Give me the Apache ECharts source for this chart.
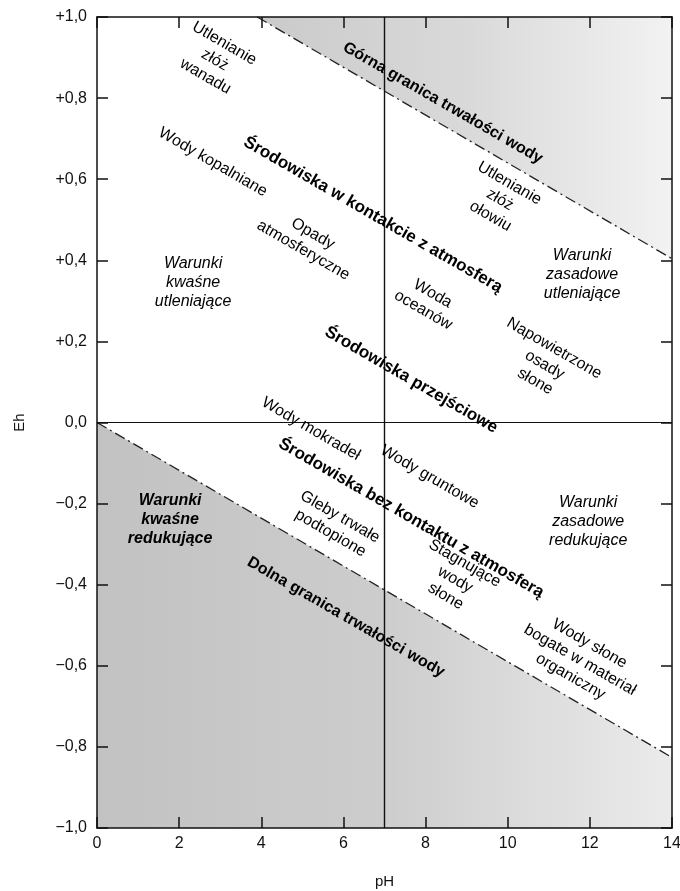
<!DOCTYPE html>
<html>
<head>
<meta charset="utf-8">
<title>Eh - pH</title>
<script src="https://cdn.jsdelivr.net/npm/echarts@6/dist/echarts.min.js"></script>
<style>
  html, body { margin: 0; padding: 0; background: #fff; }
  #chart { width: 680px; height: 891px; }
</style>
</head>
<body>
<div id="chart"></div>
<script>
// granice trwałości wody (pH, Eh)
const upperPH = [3.9, 14];
const upperEh = [1.0, 0.404];
const lowerPH = [0, 14];
const lowerEh = [0, -0.826];

// linie podziału pH 7 i Eh 0
const neutralPH = [7, 7];
const neutralEh = [-1, 1];
const zeroPH = [0, 14];
const zeroEh = [0, 0];

// opisy pól
const noteText = [
  'Utlenianie\nzłóż\nwanadu',
  'Górna granica trwałości wody',
  'Wody kopalniane',
  'Środowiska w kontakcie z atmosferą',
  'Opady\natmosferyczne',
  'Warunki\nkwaśne\nutleniające',
  'Utlenianie\nzłóż\nołowiu',
  'Warunki\nzasadowe\nutleniające',
  'Woda\noceanów',
  'Napowietrzone\nosady\nsłone',
  'Środowiska przejściowe',
  'Wody mokradeł',
  'Wody gruntowe',
  'Środowiska bez kontaktu z atmosferą',
  'Warunki\nkwaśne\nredukujące',
  'Gleby trwałe\npodtopione',
  'Stagnujące\nwody\nsłone',
  'Warunki\nzasadowe\nredukujące',
  'Dolna granica trwałości wody',
  'Wody słone\nbogate w materiał\norganiczny'
];
const notePH = [2.87, 8.42, 2.82, 6.72, 5.14, 2.34, 9.81, 11.81, 8.06, 10.9,
                7.65, 5.21, 8.10, 7.65, 1.78, 5.80, 8.72, 11.96, 6.06, 11.76];
const noteEh = [0.894, 0.788, 0.642, 0.512, 0.445, 0.346, 0.549, 0.364, 0.297, 0.142,
                0.105, -0.016, -0.134, -0.236, -0.240, -0.253, -0.388, -0.245, -0.480, -0.586];
// n = zwykły, b = pogrubiony, B = pogrubiony większy, i = kursywa, bi = pogrubiona kursywa
const noteKind = ['n', 'b', 'n', 'B', 'n', 'i', 'n', 'i', 'n', 'n',
                  'B', 'n', 'n', 'B', 'bi', 'n', 'n', 'i', 'b', 'n'];

const chart = echarts.init(document.getElementById('chart'));
const FONT = '"Liberation Sans", Arial, sans-serif';

function ehLabel(v) {
  if (Math.abs(v) < 1e-9) return '0,0';
  return (v > 0 ? '+' : '\u2212') + Math.abs(v).toFixed(1).replace('.', ',');
}

const notes = noteText.map((t, i) => {
  const k = noteKind[i];
  const flat = k === 'i' || k === 'bi';
  const bold = k === 'b' || k === 'B' || k === 'bi';
  return {
    value: [notePH[i], noteEh[i]],
    label: {
      formatter: t,
      rotate: flat ? 0 : -30,
      fontSize: k === 'B' ? 17 : 16,
      fontWeight: bold ? 'bold' : 'normal',
      fontStyle: flat ? 'italic' : 'normal'
    }
  };
});

const axisLine = { show: true, onZero: false, lineStyle: { color: '#111', width: 1.5 } };
const tickIn = { show: true, inside: true, length: 11, lineStyle: { color: '#111', width: 1.5 } };

const option = {
  backgroundColor: '#fff',
  animation: false,
  grid: { left: 97, right: 8, top: 17, bottom: 63, outerBoundsMode: 'none' },
  xAxis: [
    {
      type: 'value', min: 0, max: 14, interval: 2, position: 'bottom', z: 4,
      name: 'pH', nameLocation: 'middle', nameGap: 46,
      nameTextStyle: { color: '#111', fontSize: 15, fontFamily: FONT },
      axisLine: axisLine, axisTick: tickIn, splitLine: { show: false },
      axisLabel: { color: '#111', fontSize: 16, fontFamily: FONT, margin: 8 }
    },
    {
      type: 'value', min: 0, max: 14, interval: 2, position: 'top', z: 4,
      axisLine: axisLine, axisTick: tickIn, splitLine: { show: false },
      axisLabel: { show: false }
    }
  ],
  yAxis: [
    {
      type: 'value', min: -1, max: 1, interval: 0.2, position: 'left', z: 4,
      name: 'Eh', nameLocation: 'middle', nameGap: 70, nameRotate: 90,
      nameTextStyle: { color: '#111', fontSize: 15, fontFamily: FONT },
      axisLine: axisLine, axisTick: tickIn, splitLine: { show: false },
      axisLabel: { color: '#111', fontSize: 16, fontFamily: FONT, margin: 10, formatter: ehLabel }
    },
    {
      type: 'value', min: -1, max: 1, interval: 0.2, position: 'right', z: 4,
      axisLine: axisLine, axisTick: tickIn, splitLine: { show: false },
      axisLabel: { show: false }
    }
  ],
  series: [
    {
      // obszar powyżej górnej granicy
      type: 'line', symbol: 'none', silent: true, z: 1,
      data: upperPH.map((p, i) => [p, upperEh[i]]),
      lineStyle: { color: '#222', width: 1.3, type: [11, 4, 2, 4] },
      areaStyle: {
        origin: 'end', opacity: 1,
        color: new echarts.graphic.LinearGradient(0, 0, 1, 0, [
          { offset: 0, color: '#cacaca' },
          { offset: 0.5, color: '#d9d9d9' },
          { offset: 1, color: '#f2f2f2' }
        ])
      }
    },
    {
      // obszar poniżej dolnej granicy
      type: 'line', symbol: 'none', silent: true, z: 1,
      data: lowerPH.map((p, i) => [p, lowerEh[i]]),
      lineStyle: { color: '#222', width: 1.3, type: [11, 4, 2, 4] },
      areaStyle: {
        origin: 'start', opacity: 1,
        color: new echarts.graphic.LinearGradient(0, 0, 1, 0, [
          { offset: 0, color: '#c2c2c2' },
          { offset: 0.5, color: '#cdcdcd' },
          { offset: 1, color: '#ebebeb' }
        ])
      }
    },
    {
      type: 'line', symbol: 'none', silent: true, z: 2,
      data: neutralPH.map((p, i) => [p, neutralEh[i]]),
      lineStyle: { color: '#111', width: 1.4 }
    },
    {
      type: 'line', symbol: 'none', silent: true, z: 2,
      data: zeroPH.map((p, i) => [p, zeroEh[i]]),
      lineStyle: { color: '#111', width: 1.2 }
    },
    {
      // opisy
      type: 'scatter', symbolSize: 0, silent: true, z: 5,
      itemStyle: { opacity: 1 },
      data: notes,
      label: {
        show: true, position: 'inside', color: '#000', opacity: 1,
        fontFamily: FONT, fontSize: 16, lineHeight: 19,
        align: 'center', verticalAlign: 'middle'
      }
    }
  ]
};

chart.setOption(option);
</script>
</body>
</html>
